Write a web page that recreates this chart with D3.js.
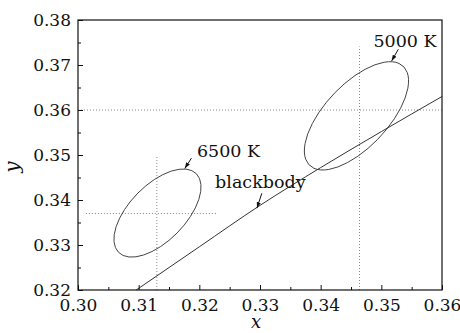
<!DOCTYPE html>
<html>
<head>
<meta charset="utf-8">
<script src="https://cdn.jsdelivr.net/npm/d3@7"></script>
<style>
  html, body { margin: 0; padding: 0; background: #fff; }
  svg { display: block; }
  .axis path { display: none; }
  .axis line { stroke: #111; stroke-width: 1; }
</style>
</head>
<body>
<svg width="460" height="333"></svg>
<script>
// axis ticks
var xTicks = [0.30, 0.31, 0.32, 0.33, 0.34, 0.35, 0.36];
var yTicks = [0.32, 0.33, 0.34, 0.35, 0.36, 0.37, 0.38];
var xMinor = [0.305, 0.315, 0.325, 0.335, 0.345, 0.355];
var yMinor = [0.325, 0.335, 0.345, 0.355, 0.365, 0.375];

// blackbody locus
var blackbodyX = [0.3096, 0.3200, 0.3300, 0.3400, 0.3500, 0.3600];
var blackbodyY = [0.3200, 0.3296, 0.3388, 0.3472, 0.3552, 0.3630];

// tolerance ellipses
var ellipseNames = ["6500 K", "5000 K"];
var ellipseCx = [0.3131, 0.3459];
var ellipseCy = [0.3371, 0.3587];
var ellipseMajor = [0.0110, 0.0136];
var ellipseMinor = [0.00515, 0.0058];
var ellipseTilt = [59, 59];

// dotted reference crosshairs
var refX = [0.3130, 0.3464];
var refY = [0.3370, 0.3600];
var refTop = [0.3500, 0.3741];
var refBottom = [0.3200, 0.3200];
var refLeft = [0.3013, 0.3000];
var refRight = [0.3228, 0.3600];

// annotations: text anchor point and arrow from -> to
var noteText = ["6500 K", "5000 K", "blackbody"];
var noteX = [0.3196, 0.3487, 0.3226];
var noteY = [0.3496, 0.3741, 0.3426];
var arrowX0 = [0.3187, 0.3528, 0.3303];
var arrowY0 = [0.3493, 0.3735, 0.3415];
var arrowX1 = [0.3176, 0.3517, 0.3295];
var arrowY1 = [0.3470, 0.3709, 0.3382];

var serif = "'DejaVu Serif', serif";

var svg = d3.select("svg"),
    margin = { top: 20, right: 18, bottom: 43, left: 78 },
    width = +svg.attr("width") - margin.left - margin.right,
    height = +svg.attr("height") - margin.top - margin.bottom;

var x = d3.scaleLinear().domain([0.30, 0.36]).range([0, width]),
    y = d3.scaleLinear().domain([0.32, 0.38]).range([height, 0]);

var defs = svg.append("defs");
defs.append("marker")
    .attr("id", "head")
    .attr("viewBox", "0 0 10 10")
    .attr("refX", 10).attr("refY", 5)
    .attr("markerUnits", "userSpaceOnUse")
    .attr("markerWidth", 6).attr("markerHeight", 6)
    .attr("orient", "auto")
    .append("path")
    .attr("d", "M0,1.5L10,5L0,8.5Z")
    .attr("fill", "#111");

var g = svg.append("g")
    .attr("transform", "translate(" + margin.left + "," + margin.top + ")");

// crosshairs
refX.forEach(function (d, i) {
    g.append("line")
        .attr("x1", x(d)).attr("x2", x(d))
        .attr("y1", y(refBottom[i])).attr("y2", y(refTop[i]))
        .attr("stroke", "#888").attr("stroke-width", 1)
        .attr("stroke-dasharray", "1,2");
    g.append("line")
        .attr("x1", x(refLeft[i])).attr("x2", x(refRight[i]))
        .attr("y1", y(refY[i])).attr("y2", y(refY[i]))
        .attr("stroke", "#888").attr("stroke-width", 1)
        .attr("stroke-dasharray", "1,2");
});

// ellipses, drawn in data space through the scales
var kx = x(1) - x(0), ky = y(1) - y(0);
ellipseNames.forEach(function (name, i) {
    g.append("g")
        .attr("transform", "translate(" + x(ellipseCx[i]) + "," + y(ellipseCy[i]) + ") scale(" + kx + "," + ky + ") rotate(" + ellipseTilt[i] + ")")
        .append("ellipse")
        .attr("rx", ellipseMajor[i])
        .attr("ry", ellipseMinor[i])
        .attr("fill", "none")
        .attr("stroke", "#444")
        .attr("stroke-width", 1)
        .attr("vector-effect", "non-scaling-stroke");
});

// blackbody locus
var line = d3.line()
    .x(function (d, i) { return x(blackbodyX[i]); })
    .y(function (d) { return y(d); })
    .curve(d3.curveMonotoneX);

g.append("path")
    .attr("d", line(blackbodyY))
    .attr("fill", "none")
    .attr("stroke", "#333")
    .attr("stroke-width", 1);

// axes
g.append("g")
    .attr("class", "axis")
    .attr("transform", "translate(0," + height + ")")
    .call(d3.axisBottom(x).tickValues(xTicks).tickSize(-5).tickPadding(9).tickFormat(d3.format(".2f")))
    .attr("font-family", serif).attr("font-size", 17);

g.append("g")
    .attr("class", "axis")
    .attr("transform", "translate(0," + height + ")")
    .call(d3.axisBottom(x).tickValues(xMinor).tickSize(-3).tickFormat(""));

g.append("g")
    .attr("class", "axis")
    .call(d3.axisLeft(y).tickValues(yTicks).tickSize(-5).tickPadding(7).tickFormat(d3.format(".2f")))
    .attr("font-family", serif).attr("font-size", 17);

g.append("g")
    .attr("class", "axis")
    .call(d3.axisLeft(y).tickValues(yMinor).tickSize(-3).tickFormat(""));

g.selectAll(".axis text").attr("fill", "#111");

g.append("rect")
    .attr("width", width).attr("height", height)
    .attr("fill", "none").attr("stroke", "#111").attr("stroke-width", 1.2);

// axis titles
g.append("text")
    .attr("x", width / 2 - 4)
    .attr("y", height + 38)
    .attr("text-anchor", "middle")
    .attr("font-family", serif)
    .attr("font-style", "italic")
    .attr("font-size", 18)
    .attr("fill", "#111")
    .text("x");

g.append("text")
    .attr("transform", "translate(" + (-59) + "," + (height / 2 + 12) + ") rotate(-90)")
    .attr("text-anchor", "middle")
    .attr("font-family", serif)
    .attr("font-style", "italic")
    .attr("font-size", 20)
    .attr("fill", "#111")
    .text("y");

// annotations
noteText.forEach(function (t, i) {
    g.append("text")
        .attr("x", x(noteX[i])).attr("y", y(noteY[i]))
        .attr("font-family", serif)
        .attr("font-size", 17.5)
        .attr("fill", "#111")
        .text(t);
    g.append("line")
        .attr("x1", x(arrowX0[i])).attr("y1", y(arrowY0[i]))
        .attr("x2", x(arrowX1[i])).attr("y2", y(arrowY1[i]))
        .attr("stroke", "#111").attr("stroke-width", 1)
        .attr("marker-end", "url(#head)");
});
</script>
</body>
</html>
